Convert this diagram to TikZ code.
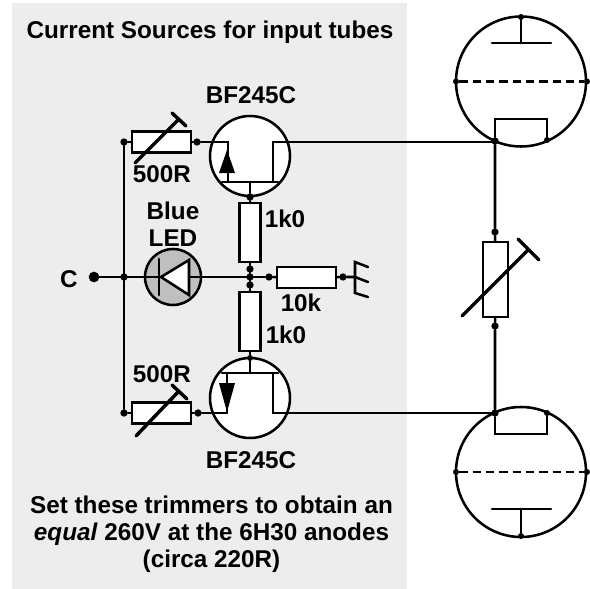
\documentclass[tikz,border=0pt]{standalone}
\usepackage{fontspec}
\setmainfont{Liberation Sans}
\begin{document}
\begin{tikzpicture}[x=0.75pt,y=-0.75pt,
  wire/.style={line width=1.9pt,line cap=round},
  thick wire/.style={line width=2.6pt,line cap=round},
  dot/.style={circle,fill=black,inner sep=0pt,minimum size=5.5pt},
  bigdot/.style={circle,fill=black,inner sep=0pt,minimum size=8pt},
  smalldot/.style={circle,fill=black,inner sep=0pt,minimum size=4.5pt},
  resbody/.style={draw,line width=1.9pt,fill=white,inner sep=0pt},
  hres/.style={resbody,minimum width=44.25pt,minimum height=15.5pt},
  vres/.style={resbody,minimum width=15.5pt,minimum height=44.25pt},
  tube/.style={circle,draw,line width=1.9pt,inner sep=0pt,minimum size=97.5pt},
  jfet/.style={circle,draw,line width=1.9pt,fill=white,inner sep=0pt,minimum size=60pt},
  lbl/.style={font=\fontsize{18.2pt}{20.25pt}\selectfont\bfseries,inner sep=0pt,align=center}
]
\useasboundingbox (0,0) rectangle (590,589);
\fill[fill=black!7] (12,3) rectangle (407,589);
% texts
\node[lbl] (title) at (210,32) {Current Sources for input tubes};
\node[lbl] (bf1) at (251,95.5) {BF245C};
\node[lbl] (bf2) at (251,460) {BF245C};
\node[lbl] (r1) at (162,174.5) {500R};
\node[lbl] (r2) at (162,374) {500R};
\node[lbl] (blue) at (173,211) {Blue};
\node[lbl] (led) at (173,238) {LED};
\node[lbl] (k1) at (285,219) {1k0};
\node[lbl] (k2) at (286,335) {1k0};
\node[lbl] (k3) at (301,303) {10k};
\node[lbl] (c) at (69,279) {C};
\node[lbl] (note) at (211.5,534) {Set these trimmers to obtain an\\\textit{equal} 260V at the 6H30 anodes\\(circa 220R)};
% left rail and input
\node[bigdot] (cin) at (94,277) {};
\node[dot] (rail) at (124,277) {};
\node[dot] (railt) at (124,142) {};
\node[dot] (railb) at (124,413) {};
\draw[wire] (railt) -- (railb);
% LED
\node[circle,draw,line width=1.9pt,fill=black!25,inner sep=0pt,minimum size=42pt] (ledc) at (173,277) {};
\coordinate (ledk) at (160,277);
\coordinate (leda) at (189,277);
\node[dot] (jct1) at (250,269) {};
\node[dot] (jct2) at (250,285) {};
\node[dot] (jout) at (269,277) {};
\node[dot] (jmid) at (250,277) {};
\draw[wire] (cin) -- (ledk);
\draw[wire] (leda) -- (jout);
\draw[wire,fill=white,line join=miter] (161,277) -- (189,260) -- (189,295) -- cycle;
\draw[wire] (159,259) -- (159,295);
% 10k and ground
\node[hres] (r10k) at (306.5,277.5) {};
\node[dot] (jgnd) at (343,277) {};
\coordinate (gnd) at (355,277);
\draw[wire] (jout) -- (r10k) -- (jgnd) -- (gnd);
\draw[wire,line join=miter] (368,267) -- (355,262) -- (355,293) -- (368,297);
\draw[wire] (gnd) -- (368,282);
% top trimmer
\node[hres] (rt) at (161.5,142) {};
\node[dot] (rtout) at (197,142) {};
\draw[wire] (railt) -- (rt) -- (rtout);
\draw[thick wire] (135,163) -- (179,119) (172,113) -- (186,126);
% bottom trimmer
\node[hres] (rb) at (161.5,413) {};
\node[dot] (rbout) at (198,413) {};
\draw[wire] (railb) -- (rb) -- (rbout);
\draw[thick wire] (136,436) -- (179,391) (172,385) -- (187,399);
% top JFET
\node[jfet] (q1) at (250,156) {};
\draw[wire,line join=miter] (rtout) -- (228,142) -- (228,182);
\draw[wire] (222,182) -- (278,182);
\draw[wire] (273,182) -- (273,142) -- (495,142);
\fill (227,150) -- (235,173) -- (219,173) -- cycle;
\node[dot] (q1g) at (250,197) {};
\draw[wire] (250,182) -- (q1g);
% bottom JFET
\node[jfet] (q2) at (250,398) {};
\draw[wire,line join=miter] (rbout) -- (227,413) -- (227,373);
\draw[wire] (222,373) -- (278,373);
\draw[wire] (273,373) -- (273,413) -- (495,413);
\fill (227,412) -- (235,383) -- (219,383) -- cycle;
\node[smalldot] (q2g) at (250,358) {};
\draw[wire] (250,373) -- (q2g);
% 1k0 resistors
\node[vres] (ru) at (250,232.5) {};
\node[vres] (rd) at (250,321.5) {};
\draw[wire] (q1g) -- (ru) -- (jct1) -- (jct2) -- (rd) -- (q2g);
% top tube
\node[tube] (v1) at (521,81.5) {};
\node[smalldot] (v1a) at (521,17) {};
\node[smalldot] (v1gl) at (456,81.5) {};
\node[smalldot] (v1gr) at (587,81.5) {};
\node[dot] (v1k1) at (495,141) {};
\node[smalldot] (v1k2) at (547,140) {};
\draw[wire] (v1a) -- (521,43) (492,43) -- (551,43);
\draw[line width=1.9pt,dash pattern=on 6.2pt off 3.8pt] (v1gl) -- (v1gr);
\draw[wire,line join=miter] (v1k1) -- (495,119) -- (547,119) -- (v1k2);
% bottom tube
\node[tube] (v2) at (521,472) {};
\node[smalldot] (v2a) at (521,536) {};
\node[smalldot] (v2gl) at (456,472) {};
\node[smalldot] (v2gr) at (587,472) {};
\node[dot] (v2k1) at (495,413) {};
\node[smalldot] (v2k2) at (547,413) {};
\draw[wire] (v2a) -- (521,509) (492,509) -- (551,509);
\draw[line width=1.9pt,dash pattern=on 6.2pt off 3.8pt] (v2gl) -- (v2gr);
\draw[wire,line join=miter] (v2k1) -- (495,434) -- (547,434) -- (v2k2);
% balance trimmer
\node[resbody,minimum width=19pt,minimum height=56pt] (rv) at (495.5,279.5) {};
\node[dot] (rvt) at (495,232) {};
\node[dot] (rvb) at (495,326) {};
\draw[wire] (v1k1) -- (rvt) -- (rv) -- (rvb) -- (v2k1);
\draw[thick wire] (462,316) -- (528,250) (518,239) -- (539,260);
\end{tikzpicture}
\end{document}
